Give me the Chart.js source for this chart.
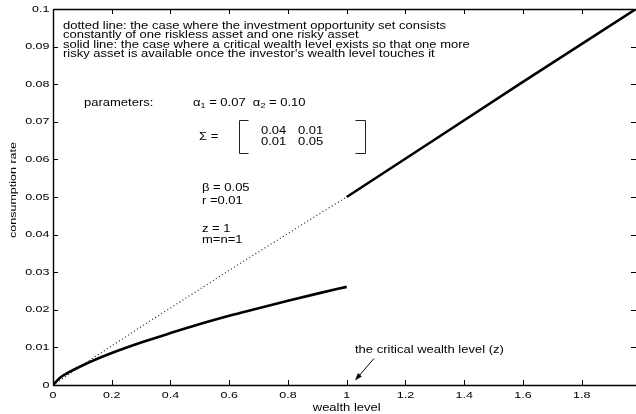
<!DOCTYPE html>
<html>
<head>
<meta charset="utf-8">
<script src="https://cdn.jsdelivr.net/npm/chart.js@4.4.0/dist/chart.umd.min.js"></script>
<style>
  html, body { margin: 0; padding: 0; background: #fff; }
  #wrap { width: 636px; height: 414px; position: relative; }
</style>
</head>
<body>
<div id="wrap"><canvas id="canvas"></canvas></div>
<script>
// axis ticks
var xTicks = [0, 0.2, 0.4, 0.6, 0.8, 1, 1.2, 1.4, 1.6, 1.8];
var xTickLabels = ["0", "0.2", "0.4", "0.6", "0.8", "1", "1.2", "1.4", "1.6", "1.8"];
var yTicks = [0, 0.01, 0.02, 0.03, 0.04, 0.05, 0.06, 0.07, 0.08, 0.09, 0.1];
var yTickLabels = ["0", "0.01", "0.02", "0.03", "0.04", "0.05", "0.06", "0.07", "0.08", "0.09", "0.1"];
var xMax = 1.985;

// dotted line: one riskless + one risky asset
var dottedX = [0, 0.1, 0.2, 0.3, 0.4, 0.5, 0.6, 0.7, 0.8, 0.9, 1];
var dottedY = [0, 0.0053, 0.0104, 0.0155, 0.0205, 0.0255, 0.0305, 0.0354, 0.0403, 0.0452, 0.0500];

// solid line below the critical level
var lowerX = [0, 0.025, 0.05, 0.1, 0.2, 0.3, 0.4, 0.5, 0.6, 0.7, 0.8, 0.9, 1];
var lowerY = [0, 0.0020, 0.0032, 0.0052, 0.0085, 0.0113, 0.0138, 0.0162, 0.0184, 0.0204, 0.0224, 0.0243, 0.0261];

// solid line above the critical level
var upperX = [1, 1.3, 1.6, 1.985];
var upperY = [0.0500, 0.0653, 0.0806, 0.1000];

var noteLines = [
    "dotted line: the case where the investment opportunity set consists",
    "constantly of one riskless asset and one risky asset",
    "solid line: the case where a critical wealth level exists so that one more",
    "risky asset is available once the investor's wealth level touches it"
];

var FONT = "'Liberation Sans', Arial, Helvetica, sans-serif";
var SY = 0.78; // the figure's lettering is flatter than normal

function toPoints(xs, ys) {
    return xs.map(function(x, i) { return { x: x, y: ys[i] }; });
}

// text drawn around its vertical middle, flattened by SY
function txt(ctx, s, x, y, size, align, rot) {
    ctx.save();
    ctx.translate(x, y);
    if (rot) ctx.rotate(rot);
    ctx.scale(1, SY);
    ctx.font = size + "px " + FONT;
    ctx.textAlign = align || "left";
    ctx.textBaseline = "middle";
    ctx.fillText(s, 0, 0);
    var w = ctx.measureText(s).width;
    ctx.restore();
    return w;
}

// [text, isSubscript] parts
function txtParts(ctx, parts, x, y) {
    parts.forEach(function(p) {
        if (p[1]) x += txt(ctx, p[0], x, y + 3, 9);
        else x += txt(ctx, p[0], x, y, 13);
    });
}

var decorPlugin = {
    id: "decor",
    afterDraw: function(chart) {
        var ctx = chart.ctx;
        var a = chart.chartArea;
        var xs = chart.scales.x, ys = chart.scales.y;
        ctx.save();

        // frame
        ctx.strokeStyle = "#000";
        ctx.lineWidth = 1.4;
        ctx.beginPath();
        ctx.moveTo(a.left + 0.5, a.top + 0.5);
        ctx.lineTo(a.left + 0.5, a.bottom + 0.5);
        ctx.lineTo(a.right, a.bottom + 0.5);
        ctx.moveTo(a.left + 0.5, a.top + 0.5);
        ctx.lineTo(a.right, a.top + 0.5);
        ctx.stroke();

        // inward ticks on all four sides
        ctx.lineWidth = 1;
        ctx.beginPath();
        xTicks.forEach(function(v) {
            var px = Math.round(xs.getPixelForValue(v)) + 0.5;
            ctx.moveTo(px, a.bottom);
            ctx.lineTo(px, a.bottom - 5);
            ctx.moveTo(px, a.top);
            ctx.lineTo(px, a.top + 5);
        });
        yTicks.forEach(function(v) {
            var py = Math.round(ys.getPixelForValue(v)) + 0.5;
            ctx.moveTo(a.left, py);
            ctx.lineTo(a.left + 5, py);
            ctx.moveTo(a.right, py);
            ctx.lineTo(a.right - 5, py);
        });
        ctx.stroke();

        ctx.fillStyle = "#000";

        // tick labels
        xTicks.forEach(function(v, i) {
            txt(ctx, xTickLabels[i], xs.getPixelForValue(v), a.bottom + 10, 12.5, "center");
        });
        yTicks.forEach(function(v, i) {
            txt(ctx, yTickLabels[i], a.left - 3.5, ys.getPixelForValue(v), 12.5, "right");
        });

        // explanation text
        noteLines.forEach(function(t, i) {
            txt(ctx, t, 63, 26 + i * 9.5, 13);
        });

        // parameters
        txt(ctx, "parameters:", 84, 103.5, 13);
        txtParts(ctx, [["\u03b1", 0], ["1", 1], [" = 0.07  ", 0], ["\u03b1", 0], ["2", 1], [" = 0.10", 0]], 193, 103.5);
        txt(ctx, "\u03a3 =", 199, 137, 13);

        // matrix brackets
        ctx.strokeStyle = "#222";
        ctx.beginPath();
        ctx.moveTo(248.5, 120.5); ctx.lineTo(239.5, 120.5); ctx.lineTo(239.5, 153.5); ctx.lineTo(248.5, 153.5);
        ctx.moveTo(355.5, 120.5); ctx.lineTo(365.5, 120.5); ctx.lineTo(365.5, 153.5); ctx.lineTo(355.5, 153.5);
        ctx.stroke();
        txt(ctx, "0.04", 261, 131, 13);
        txt(ctx, "0.01", 298, 131, 13);
        txt(ctx, "0.01", 261, 142.5, 13);
        txt(ctx, "0.05", 298, 142.5, 13);

        txt(ctx, "\u03b2 = 0.05", 202, 188.5, 13);
        txt(ctx, "r =0.01", 202, 201.5, 13);
        txt(ctx, "z = 1", 202, 229, 13);
        txt(ctx, "m=n=1", 202, 240, 13);

        // critical wealth level label + arrow
        txt(ctx, "the critical wealth level (z)", 355, 350.5, 13);
        var tipX = xs.getPixelForValue(1.028), tipY = ys.getPixelForValue(0.0012);
        var sx = 374, sy = 358.5;
        var ang = Math.atan2(tipY - sy, tipX - sx);
        ctx.strokeStyle = "#000";
        ctx.lineWidth = 1;
        ctx.beginPath();
        ctx.moveTo(sx, sy);
        ctx.lineTo(tipX - 5 * Math.cos(ang), tipY - 5 * Math.sin(ang));
        ctx.stroke();
        ctx.beginPath();
        ctx.moveTo(tipX, tipY);
        ctx.lineTo(tipX - 8 * Math.cos(ang - 0.32), tipY - 8 * Math.sin(ang - 0.32));
        ctx.lineTo(tipX - 8 * Math.cos(ang + 0.32), tipY - 8 * Math.sin(ang + 0.32));
        ctx.closePath();
        ctx.fill();

        // axis titles
        txt(ctx, "wealth level", xs.getPixelForValue(1), 408, 13, "center");
        txt(ctx, "consumption rate", 13, 190, 12.5, "center", -Math.PI / 2);

        ctx.restore();
    }
};

var ctx = document.getElementById("canvas").getContext("2d");
new Chart(ctx, {
    type: "line",
    data: {
        datasets: [{
            label: "dotted",
            data: toPoints(dottedX, dottedY),
            borderColor: "#222",
            borderWidth: 1.2,
            borderDash: [1, 2.6],
            pointRadius: 0,
            cubicInterpolationMode: "monotone",
            fill: false
        }, {
            label: "solid lower",
            data: toPoints(lowerX, lowerY),
            borderColor: "#000",
            borderWidth: 2.6,
            pointRadius: 0,
            cubicInterpolationMode: "monotone",
            fill: false
        }, {
            label: "solid upper",
            data: toPoints(upperX, upperY),
            borderColor: "#000",
            borderWidth: 2.6,
            pointRadius: 0,
            fill: false
        }]
    },
    options: {
        responsive: true,
        maintainAspectRatio: false,
        animation: false,
        devicePixelRatio: 1,
        layout: { padding: { top: 9, right: 0, left: 0, bottom: 0 } },
        plugins: {
            legend: { display: false },
            tooltip: { enabled: false }
        },
        scales: {
            x: {
                type: "linear",
                min: 0,
                max: xMax,
                grid: { display: false, drawTicks: false },
                border: { display: false },
                afterBuildTicks: function(scale) {
                    scale.ticks = xTicks.map(function(v) { return { value: v }; });
                },
                afterFit: function(scale) { scale.height = 29; },
                ticks: { display: false }
            },
            y: {
                type: "linear",
                min: 0,
                max: 0.1,
                grid: { display: false, drawTicks: false },
                border: { display: false },
                afterBuildTicks: function(scale) {
                    scale.ticks = yTicks.map(function(v) { return { value: v }; });
                },
                afterFit: function(scale) { scale.width = 53; },
                ticks: { display: false }
            }
        }
    },
    plugins: [decorPlugin]
});
</script>
</body>
</html>
